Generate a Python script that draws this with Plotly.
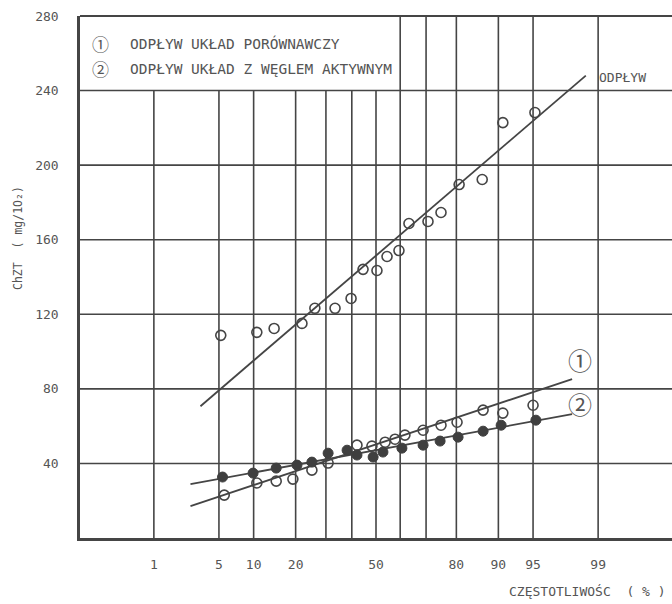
from statistics import NormalDist
import plotly.graph_objects as go

nd = NormalDist()
def z(p):
    return nd.inv_cdf(p / 100.0)

# ---------------- data ----------------
grid_p = [1, 5, 10, 20, 30, 40, 50, 60, 70, 80, 90, 95, 99]
tick_p = [1, 5, 10, 20, 50, 80, 90, 95, 99]
tick_p_text = ["1", "5", "10", "20", "50", "80", "90", "95", "99"]
y_ticks = [40, 80, 120, 160, 200, 240, 280]

# DOPŁYW (inflow) - open circles
dop_p = [5.2, 10.6, 14.3, 21.9, 26.1, 33.4, 39.7, 44.6, 50.4, 54.6, 59.5, 63.5, 70.7, 75.2, 80.8, 86.7, 90.8, 95.2]
dop_v = [108.7, 110.3, 112.4, 115.1, 123.2, 123.2, 128.5, 144.1, 143.5, 151.0, 154.2, 168.7, 169.8, 174.6, 189.6, 192.3, 222.8, 228.2]
dop_line_p = [3.3, 98.6]
dop_line_v = [70.7, 248.0]

# (1) ODPŁYW układ porównawczy - open circles
s1_p = [5.6, 10.6, 14.8, 19.2, 25.1, 30.8, 42.1, 48.3, 53.8, 57.9, 61.9, 68.9, 75.2, 80.2, 86.9, 90.8, 95.0]
s1_v = [23.0, 29.5, 30.5, 31.6, 36.4, 40.2, 49.8, 49.3, 51.4, 53.0, 55.2, 57.8, 60.5, 62.1, 68.6, 67.0, 71.2]
s1_line_p = [2.6, 98.0]
s1_line_v = [17.1, 85.2]

# (2) ODPŁYW układ z węglem aktywnym - filled circles
s2_p = [5.4, 9.9, 14.8, 20.4, 25.1, 30.8, 38.1, 42.1, 48.8, 52.9, 60.7, 68.9, 74.9, 80.5, 86.9, 90.5, 95.3]
s2_v = [32.7, 34.8, 37.5, 39.1, 40.7, 45.5, 47.1, 44.5, 43.4, 46.1, 48.2, 49.8, 52.0, 54.1, 57.3, 60.5, 63.2]
s2_line_p = [2.6, 98.0]
s2_line_v = [28.9, 66.4]

legend_lines = ["ODPŁYW UKŁAD PORÓWNAWCZY", "ODPŁYW UKŁAD Z WĘGLEM AKTYWNYM"]

# ---------------- style ----------------
INK = "#454545"
TXT = "#555555"
MONO = "DejaVu Sans Mono"
CIRC = "Noto Sans CJK SC"
W, H = 672, 604
L, R, T, B = 80, 0, 16, 66
XMIN, XMAX = -3.10, 3.10
YMIN, YMAX = 0, 280

def px(x):  # pixel -> paper x
    return (x - L) / (W - L - R)
def py(y):  # pixel -> paper y
    return (H - B - y) / (H - B - T)

fig = go.Figure()

line_style = dict(color=INK, width=1.8)
fig.add_trace(go.Scatter(x=[z(p) for p in dop_line_p], y=dop_line_v, mode="lines", line=line_style, hoverinfo="skip"))
fig.add_trace(go.Scatter(x=[z(p) for p in s1_line_p], y=s1_line_v, mode="lines", line=line_style, hoverinfo="skip"))
fig.add_trace(go.Scatter(x=[z(p) for p in s2_line_p], y=s2_line_v, mode="lines", line=line_style, hoverinfo="skip"))

open_m = dict(symbol="circle-open", size=10, color=INK, line=dict(width=1.6, color=INK))
fig.add_trace(go.Scatter(x=[z(p) for p in dop_p], y=dop_v, mode="markers", marker=open_m))
fig.add_trace(go.Scatter(x=[z(p) for p in s1_p], y=s1_v, mode="markers", marker=open_m))
fig.add_trace(go.Scatter(x=[z(p) for p in s2_p], y=s2_v, mode="markers",
                         marker=dict(symbol="circle", size=10, color="#3f3f3f", line=dict(width=1, color="#3f3f3f"))))

# grid lines (vertical stop below the legend box for p < 60)
shapes = []
for p in grid_p:
    top = 240 if p < 60 else YMAX
    shapes.append(dict(type="line", xref="x", yref="y", x0=z(p), x1=z(p), y0=0, y1=top,
                       line=dict(color=INK, width=1.6), layer="below"))
for v in y_ticks[:-1]:
    shapes.append(dict(type="line", xref="paper", yref="y", x0=0, x1=1, y0=v, y1=v,
                       line=dict(color=INK, width=1.6), layer="below"))
# frame top
shapes.append(dict(type="line", xref="paper", yref="paper", x0=0, x1=1, y0=1, y1=1,
                   line=dict(color=INK, width=2)))

annotations = []
# legend box text
for i, txt in enumerate(legend_lines):
    yy = 43 + i * 26
    annotations.append(dict(xref="paper", yref="paper", x=px(100), y=py(yy), text="①" if i == 0 else "②",
                            showarrow=False, font=dict(family=CIRC, size=17, color=TXT),
                            xanchor="center", yanchor="middle"))
    annotations.append(dict(xref="paper", yref="paper", x=px(128), y=py(yy), text=txt,
                            showarrow=False, font=dict(family=MONO, size=14.5, color=TXT),
                            xanchor="left", yanchor="middle"))
# line labels
annotations.append(dict(xref="paper", yref="paper", x=px(597), y=py(77), text="ODPŁYW", showarrow=False,
                        font=dict(family=MONO, size=13, color=TXT), xanchor="left", yanchor="middle"))
annotations.append(dict(xref="paper", yref="paper", x=px(580), y=py(359), text="①", showarrow=False,
                        font=dict(family=CIRC, size=24, color=TXT), xanchor="center", yanchor="middle"))
annotations.append(dict(xref="paper", yref="paper", x=px(580), y=py(403), text="②", showarrow=False,
                        font=dict(family=CIRC, size=24, color=TXT), xanchor="center", yanchor="middle"))
# axis titles
annotations.append(dict(xref="paper", yref="paper", x=px(668), y=py(591), text="CZĘSTOTLIWOŚC  ( % )",
                        showarrow=False, font=dict(family=MONO, size=13, color=TXT),
                        xanchor="right", yanchor="middle"))
annotations.append(dict(xref="paper", yref="paper", x=px(18), y=py(238), text="ChZT  ( mg/1O₂)",
                        showarrow=False, textangle=-90, font=dict(family=MONO, size=11.5, color=TXT),
                        xanchor="center", yanchor="middle"))

fig.update_layout(
    width=W, height=H,
    margin=dict(l=L, r=R, t=T, b=B),
    paper_bgcolor="white", plot_bgcolor="white",
    showlegend=False,
    shapes=shapes, annotations=annotations,
    xaxis=dict(range=[XMIN, XMAX], showgrid=False, zeroline=False,
               tickvals=[z(p) for p in tick_p], ticktext=tick_p_text, ticks="",
               showline=True, linecolor=INK, linewidth=3,
               tickfont=dict(family=MONO, size=13, color=TXT), ticklabelstandoff=12),
    yaxis=dict(range=[YMIN, YMAX], showgrid=False, zeroline=False,
               tickvals=y_ticks, ticks="", showline=True, linecolor=INK, linewidth=2.5,
               tickfont=dict(family=MONO, size=13, color=TXT), ticklabelstandoff=16),
)

fig.write_html("out.html")
